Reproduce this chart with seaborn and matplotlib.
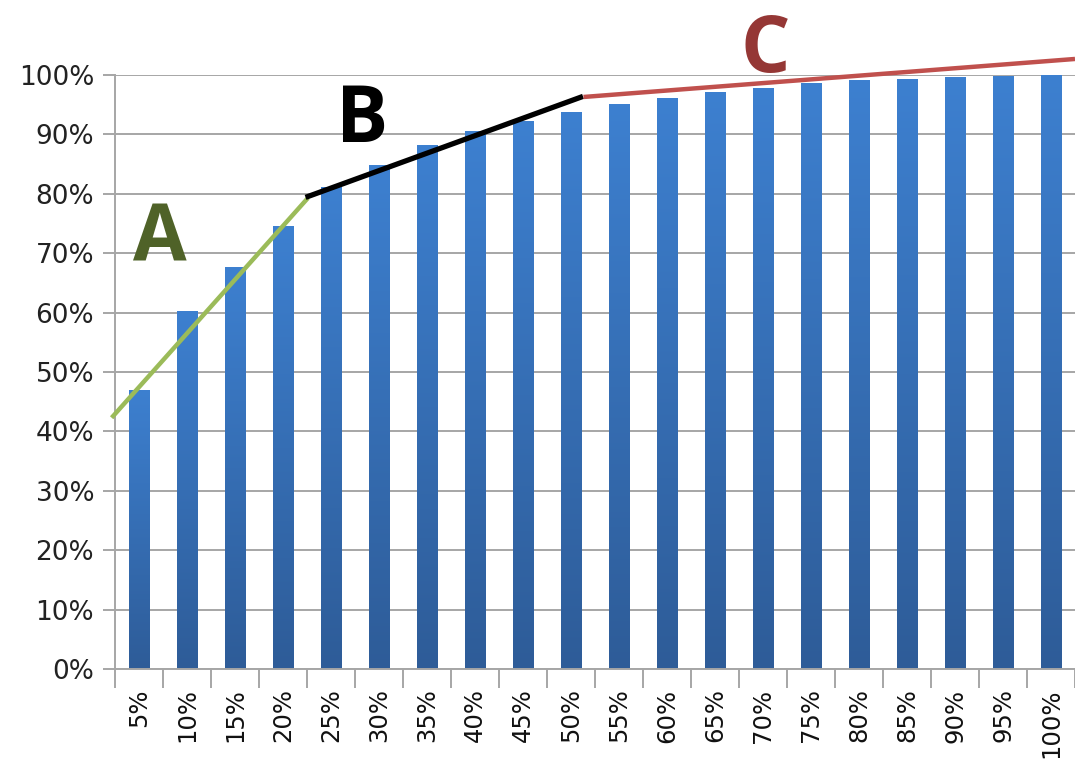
import numpy as np
import pandas as pd
import matplotlib
matplotlib.use("Agg")
import matplotlib.pyplot as plt
from matplotlib.colors import LinearSegmentedColormap
from matplotlib.ticker import FixedLocator, PercentFormatter
import seaborn as sns

# Cumulative share of the total reached by each population share
shares = ["5%", "10%", "15%", "20%", "25%", "30%", "35%", "40%", "45%", "50%",
          "55%", "60%", "65%", "70%", "75%", "80%", "85%", "90%", "95%", "100%"]
cumulative = [47.0, 60.3, 67.6, 74.5, 81.2, 84.8, 88.2, 90.5, 92.3, 93.8,
              95.1, 96.2, 97.2, 97.8, 98.6, 99.1, 99.4, 99.6, 99.9, 100.0]

# Trend segments (x in category positions, y in percent)
seg_a_x = [-0.57, 3.52]
seg_a_y = [42.3, 79.3]
seg_b_x = [3.47, 9.25]
seg_b_y = [79.4, 96.4]
seg_c_x = [9.26, 19.5]
seg_c_y = [96.3, 102.7]

# Segment labels
seg_labels = ["A", "B", "C"]
seg_label_x = [0.44, 4.65, 13.04]
seg_label_y = [72.2, 92.2, 104.0]
seg_label_colors = ["#4F6228", "#000000", "#953735"]

df = pd.DataFrame({"share": shares, "cumulative": cumulative})

sns.set_theme(style="white")
plt.rcParams["font.family"] = ["DejaVu Sans"]

fig = plt.figure(figsize=(10.75, 7.62), dpi=100)
ax = fig.add_axes([115 / 1075, 1 - 669 / 762, 1 - 115 / 1075, (669 - 75) / 762])

sns.barplot(data=df, x="share", y="cumulative", width=0.42, color="#3A7BC8",
            ax=ax, zorder=2, linewidth=0)

# Vertical gradient inside every bar: lighter at the top, darker at the base
cmap = LinearSegmentedColormap.from_list("bar", ["#2E5C98", "#3D80D0"])
grad = np.linspace(0, 1, 256).reshape(-1, 1)
for p in ax.patches:
    x0, y0 = p.get_x(), p.get_y()
    w, h = p.get_width(), p.get_height()
    im = ax.imshow(grad, cmap=cmap, aspect="auto", origin="lower",
                   extent=[x0, x0 + w, y0, y0 + h], zorder=2.5)
    im.set_clip_path(p)

ax.set_xlim(-0.5, 19.5)
ax.set_ylim(0, 100)

# Grid and axes
ax.set_yticks(np.arange(0, 101, 10))
ax.yaxis.set_major_formatter(PercentFormatter(decimals=0))
ax.grid(axis="y", color="#A6A6A6", linewidth=1.4, zorder=0)
ax.set_axisbelow(True)
for side in ["top", "right"]:
    ax.spines[side].set_visible(False)
for side in ["left", "bottom"]:
    ax.spines[side].set_color("#A6A6A6")
    ax.spines[side].set_linewidth(1.4)

ax.tick_params(axis="y", which="major", left=True, length=9, width=1.4,
               color="#A6A6A6", pad=6, labelsize=19, labelcolor="#222222")

ax.xaxis.set_minor_locator(FixedLocator(np.arange(-0.5, 20, 1)))
ax.tick_params(axis="x", which="major", bottom=False, length=0, pad=14,
               labelsize=17.5, labelcolor="#111111")
ax.tick_params(axis="x", which="minor", bottom=True, length=14, width=1.4,
               color="#A6A6A6")
plt.setp(ax.get_xticklabels(), rotation=90, va="top", ha="center")
ax.set_xlabel("")
ax.set_ylabel("")

# Trend segments
ax.plot(seg_a_x, seg_a_y, color="#9BBB59", linewidth=3.2, zorder=4,
        solid_capstyle="butt", clip_on=False)
ax.plot(seg_b_x, seg_b_y, color="#000000", linewidth=3.8, zorder=4,
        solid_capstyle="butt", clip_on=False)
ax.plot(seg_c_x, seg_c_y, color="#C0504D", linewidth=3.2, zorder=4,
        solid_capstyle="butt", clip_on=False)

for t, x, y, c in zip(seg_labels, seg_label_x, seg_label_y, seg_label_colors):
    ax.text(x, y, t, color=c, fontsize=56, fontweight="bold",
            family=["Open Sans", "DejaVu Sans"], ha="center", va="center",
            zorder=5, clip_on=False)

fig.savefig("out.png", dpi=100)
